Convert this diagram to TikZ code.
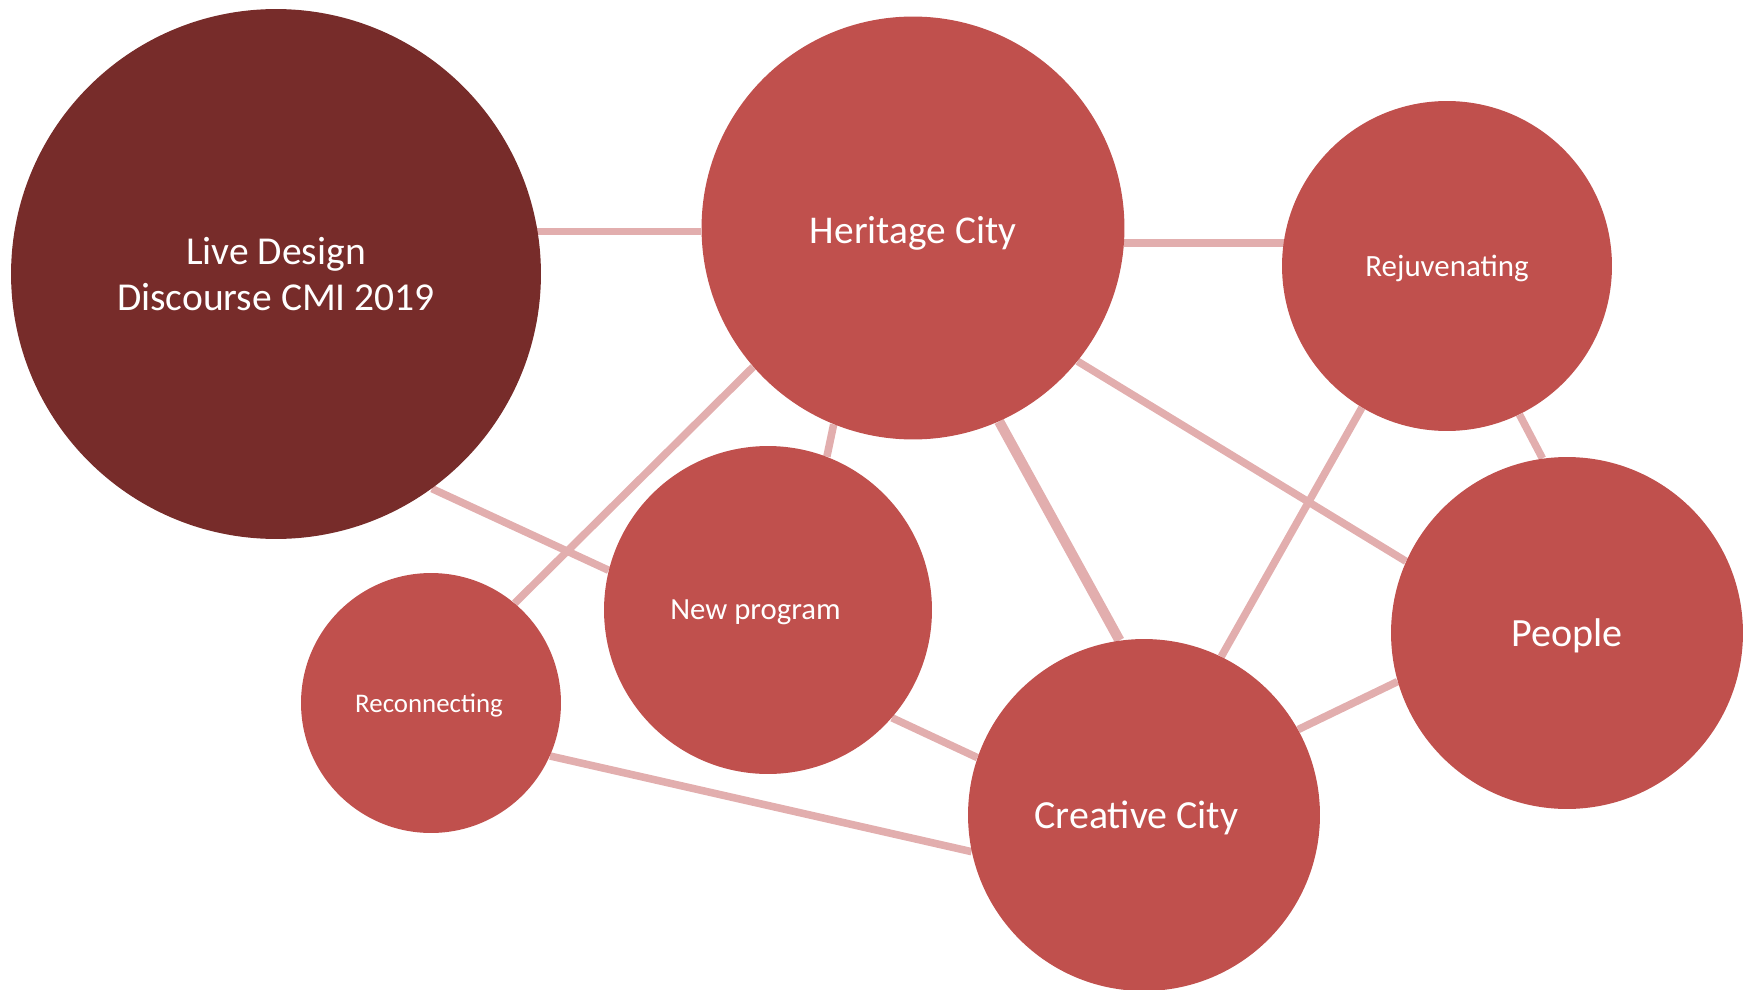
\documentclass[tikz,border=0pt]{standalone}
\usepackage{fontspec}
\setmainfont{Carlito}
\usetikzlibrary{backgrounds}
\definecolor{bubble}{HTML}{C0504D}
\definecolor{bubbledark}{HTML}{772C2A}
\definecolor{link}{HTML}{E2AEAE}

\begin{document}
\begin{tikzpicture}
  [x=0.02cm,y=-0.02cm,
  topic/.style={circle,fill=bubble,text=white,inner sep=0pt,text depth=0pt},
  hub/.style={circle,fill=bubbledark,text=white,inner sep=0pt,align=center},
  edge/.style={draw=link,line width=4.3pt},
  thickedge/.style={edge,line width=5.8pt}]
  \useasboundingbox (0,0) rectangle (1745,990);

  % bubbles
  \node[hub]   (live)       at (276,274)  [minimum size=10.6cm,font=\fontsize{22.5}{26.5}\selectfont]
                                           {Live Design\\Discourse CMI 2019};
  \node[topic] (heritage)   at (913,228)  [minimum size=8.46cm,font=\fontsize{22.4}{26}\selectfont] {\raisebox{-2pt}{Heritage City}};
  \node[topic] (rejuv)      at (1447,266) [minimum size=6.6cm,font=\fontsize{17.6}{20}\selectfont]  {Rejuvenating};
  \node[topic] (people)     at (1567,633) [minimum size=7.04cm,font=\fontsize{22.8}{26}\selectfont] {People};
  \node[topic] (newprog)    at (768,610)  [minimum size=6.56cm,font=\fontsize{17.5}{20}\selectfont] {\hspace*{-0.5cm}New program};
  \node[topic] (reconnect)  at (431,703)  [minimum size=5.2cm,font=\fontsize{15.3}{18}\selectfont] {\hspace*{-0.08cm}Reconnecting};
  \node[topic] (creative)   at (1144,815) [minimum size=7.04cm,font=\fontsize{22.7}{26}\selectfont] {\hspace*{-0.3cm}Creative City};

  % links, behind the bubbles
  \begin{scope}[on background layer]
    \draw[edge] (heritage.181.6 -| live.center) -- (heritage.181.6);
    \draw[edge] (heritage.-4.2)  -- (heritage.-4.2 -| rejuv.center);
    \draw[edge] (heritage.248.8) -- (newprog.69);
    \draw[edge] (heritage.221.4) -- (reconnect.50.8);
    \draw[thickedge] (heritage.294.8) -- (creative.98.4);
    \draw[edge] (heritage.321)   -- (people.156.3);
    \draw[edge] (live.306.9)     -- (newprog.166.9);
    \draw[edge] (rejuv.239.8)    -- (creative.64.1);
    \draw[edge] (rejuv.296.7)    -- (people.98.3);
    \draw[edge] (newprog.319.4)  -- (creative.161.9);
    \draw[edge] (reconnect.336.9) -- (creative.192.6);
    \draw[edge] (creative.29.3)  -- (people.196.6);
  \end{scope}
\end{tikzpicture}
\end{document}
